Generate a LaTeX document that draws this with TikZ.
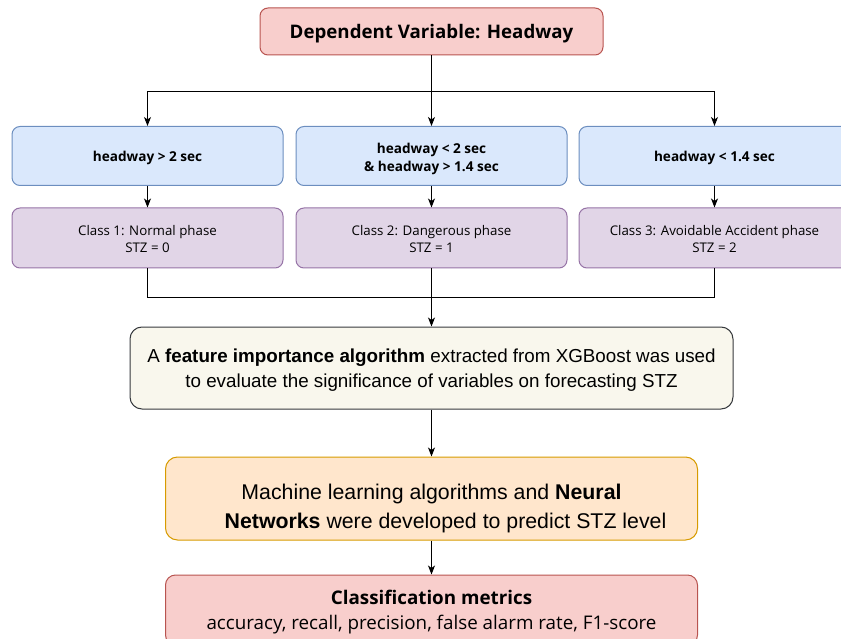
\documentclass[tikz,border=0pt]{standalone}
\usepackage{fontspec}
\setmainfont{Open Sans}
\newfontfamily\arialfont{Liberation Sans}
\usetikzlibrary{arrows.meta}

\definecolor{redfill}{HTML}{F8CECC}
\definecolor{redline}{HTML}{B85450}
\definecolor{bluefill}{HTML}{DAE8FC}
\definecolor{blueline}{HTML}{6C8EBF}
\definecolor{purplefill}{HTML}{E1D5E7}
\definecolor{purpleline}{HTML}{9673A6}
\definecolor{creamfill}{HTML}{F9F7ED}
\definecolor{creamline}{HTML}{36393D}
\definecolor{orangefill}{HTML}{FFE6CC}
\definecolor{orangeline}{HTML}{D79B00}

\begin{document}
\begin{tikzpicture}[x=1pt,y=-1pt,
  box/.style={draw, rounded corners=8pt, line width=1pt, inner sep=0pt, align=center, text depth=0pt},
  redbox/.style={box, fill=redfill, draw=redline},
  condbox/.style={box, fill=bluefill, draw=blueline, minimum width=271pt, minimum height=59pt,
    font=\bfseries\fontsize{13.6}{18.5}\selectfont},
  classbox/.style={box, fill=purplefill, draw=purpleline, minimum width=271pt, minimum height=60pt,
    font=\fontsize{13.3}{17}\selectfont},
  featbox/.style={box, rounded corners=12pt, fill=creamfill, draw=creamline},
  mlbox/.style={box, rounded corners=12pt, fill=orangefill, draw=orangeline},
  link/.style={draw=black, line width=1pt},
  arrow/.style={link, -{Stealth[length=9pt,width=7pt,inset=2.5pt]}}]

\useasboundingbox (0,0) rectangle (841,639);

% top: the dependent variable
\node[redbox, minimum width=343pt, minimum height=47pt, text depth=-3pt,
  font=\bfseries\fontsize{18.7}{22}\selectfont] (dep) at (431.5,31.5) {Dependent Variable: Headway};

% headway thresholds
\node[condbox] (c1) at (147.5,156) {headway > 2 sec};
\node[condbox] (c2) at (431.5,156) {\strut headway < 2 sec\\\& headway > 1.4 sec};
\node[condbox] (c3) at (714.5,156) {headway < 1.4 sec};

% resulting classes
\node[classbox] (p1) at (147.5,238) {\strut Class 1: Normal phase\\STZ = 0};
\node[classbox] (p2) at (431.5,238) {\strut Class 2: Dangerous phase\\STZ = 1};
\node[classbox] (p3) at (714.5,238) {\strut Class 3: Avoidable Accident phase\\STZ = 2};

% feature importance step
\node[featbox, minimum width=603pt, minimum height=82pt,
  font=\arialfont\fontsize{18.8}{25}\selectfont] (feat) at (431.5,368)
  {A \textbf{feature importance algorithm} extracted from XGBoost was used\\
   to evaluate the significance of variables on forecasting STZ};

% models: box, then its two lines set slightly below the middle
\node[mlbox, minimum width=532pt, minimum height=83pt] (ml) at (431.5,498.5) {};
\node[align=center, inner sep=0pt, font=\arialfont\fontsize{21.3}{29}\selectfont] (mltext) at (431.5,508.5)
  {Machine learning algorithms and \textbf{Neural}\\
   \hspace*{28pt}\textbf{Networks} were developed to predict STZ level};

% evaluation
\node[redbox, rounded corners=10pt, minimum width=532pt, minimum height=70pt,
  font=\fontsize{18.8}{25}\selectfont] (met) at (431.5,610)
  {\textbf{Classification metrics}\\accuracy, recall, precision, false alarm rate, F1-score};

% connectors
\path (dep.south) ++(0,36) coordinate (split);
\draw[link] (dep.south) -- (split);
\draw[arrow] (split) -| (c1.north);
\draw[arrow] (split) -| (c3.north);
\draw[arrow] (split) -- (c2.north);

\draw[arrow] (c1) -- (p1);
\draw[arrow] (c2) -- (p2);
\draw[arrow] (c3) -- (p3);

\path (p2.south) ++(0,29) coordinate (join);
\draw[link] (p1.south) |- (join);
\draw[link] (p3.south) |- (join);
\draw[arrow] (p2.south) -- (feat.north);

\draw[arrow] (feat) -- (ml);
\draw[arrow] (ml) -- (met);
\end{tikzpicture}
\end{document}
